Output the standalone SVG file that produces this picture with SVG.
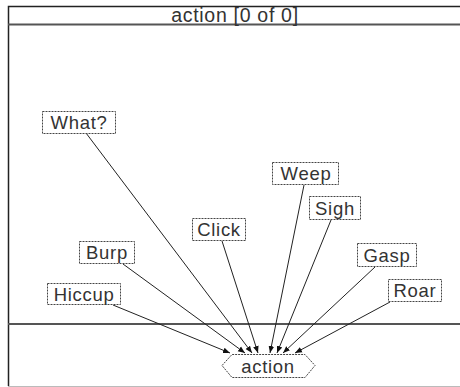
<svg xmlns="http://www.w3.org/2000/svg" width="460" height="387" viewBox="0 0 460 387">
<style>
  .lbl { font-family: "Liberation Sans", Arial, sans-serif; font-size: 18.5px; fill: #333; text-anchor: middle; letter-spacing: 0.7px; }
  .ttl { font-size: 19.5px; }
  .box { fill: #fff; stroke: #444; stroke-width: 1; stroke-dasharray: 2 1; }
  .edge { stroke: #222; stroke-width: 1; fill: none; marker-end: url(#arr); }
  .frame { stroke: #222; stroke-width: 1.5; fill: none; }
  .sep { stroke: #555; stroke-width: 2; fill: none; }
</style>
<defs>
  <marker id="arr" viewBox="0 0 10 10" refX="10" refY="5" markerWidth="7" markerHeight="7" orient="auto" markerUnits="userSpaceOnUse">
    <path d="M0,1 L10,5 L0,9 z" fill="#111"/>
  </marker>
</defs>
<rect width="460" height="387" fill="#fff"/>
<g id="frame">
  <path class="frame" d="M8.5,386 V6.5 H460"/>
  <path class="sep" d="M8,24.5 H460"/>
  <path class="sep" d="M8,324 H460"/>
  <path d="M8,386.5 H460" stroke="#bbb" stroke-width="1"/>
  <text class="lbl ttl" x="235" y="22">action [0 of 0]</text>
</g>
<g id="connectors">
  <line class="edge" x1="113" y1="305" x2="230" y2="353"/>
  <line class="edge" x1="123" y1="264" x2="245" y2="353"/>
  <line class="edge" x1="86" y1="133" x2="252" y2="353"/>
  <line class="edge" x1="222" y1="241" x2="258" y2="353"/>
  <line class="edge" x1="304" y1="185" x2="270" y2="353"/>
  <line class="edge" x1="331" y1="220" x2="277" y2="353"/>
  <line class="edge" x1="375" y1="267" x2="283" y2="353"/>
  <line class="edge" x1="390" y1="302" x2="295" y2="353"/>
</g>
<g id="what">
  <rect class="box" x="42.5" y="111.5" width="73" height="22"/>
  <text class="lbl" x="79" y="129">What?</text>
</g>
<g id="weep">
  <rect class="box" x="272.5" y="162.5" width="66" height="22"/>
  <text class="lbl" x="306" y="180">Weep</text>
</g>
<g id="sigh">
  <rect class="box" x="309.5" y="196.5" width="51" height="23"/>
  <text class="lbl" x="335" y="214.5">Sigh</text>
</g>
<g id="click">
  <rect class="box" x="192.5" y="218.5" width="53" height="22"/>
  <text class="lbl" x="219" y="236">Click</text>
</g>
<g id="burp">
  <rect class="box" x="79.5" y="241.5" width="55" height="22"/>
  <text class="lbl" x="107" y="259">Burp</text>
</g>
<g id="gasp">
  <rect class="box" x="357.5" y="243.5" width="59" height="23"/>
  <text class="lbl" x="387" y="261.5">Gasp</text>
</g>
<g id="hiccup">
  <rect class="box" x="47.5" y="283.5" width="73" height="21"/>
  <text class="lbl" x="84" y="300.5">Hiccup</text>
</g>
<g id="roar">
  <rect class="box" x="388.5" y="279.5" width="53" height="22"/>
  <text class="lbl" x="415" y="297">Roar</text>
</g>
<g id="action">
  <path class="box" d="M222,365.5 L232,354.5 H305 L315,365.5 L305,377.5 H232 Z"/>
  <text class="lbl" x="268" y="372.5">action</text>
</g>
</svg>
